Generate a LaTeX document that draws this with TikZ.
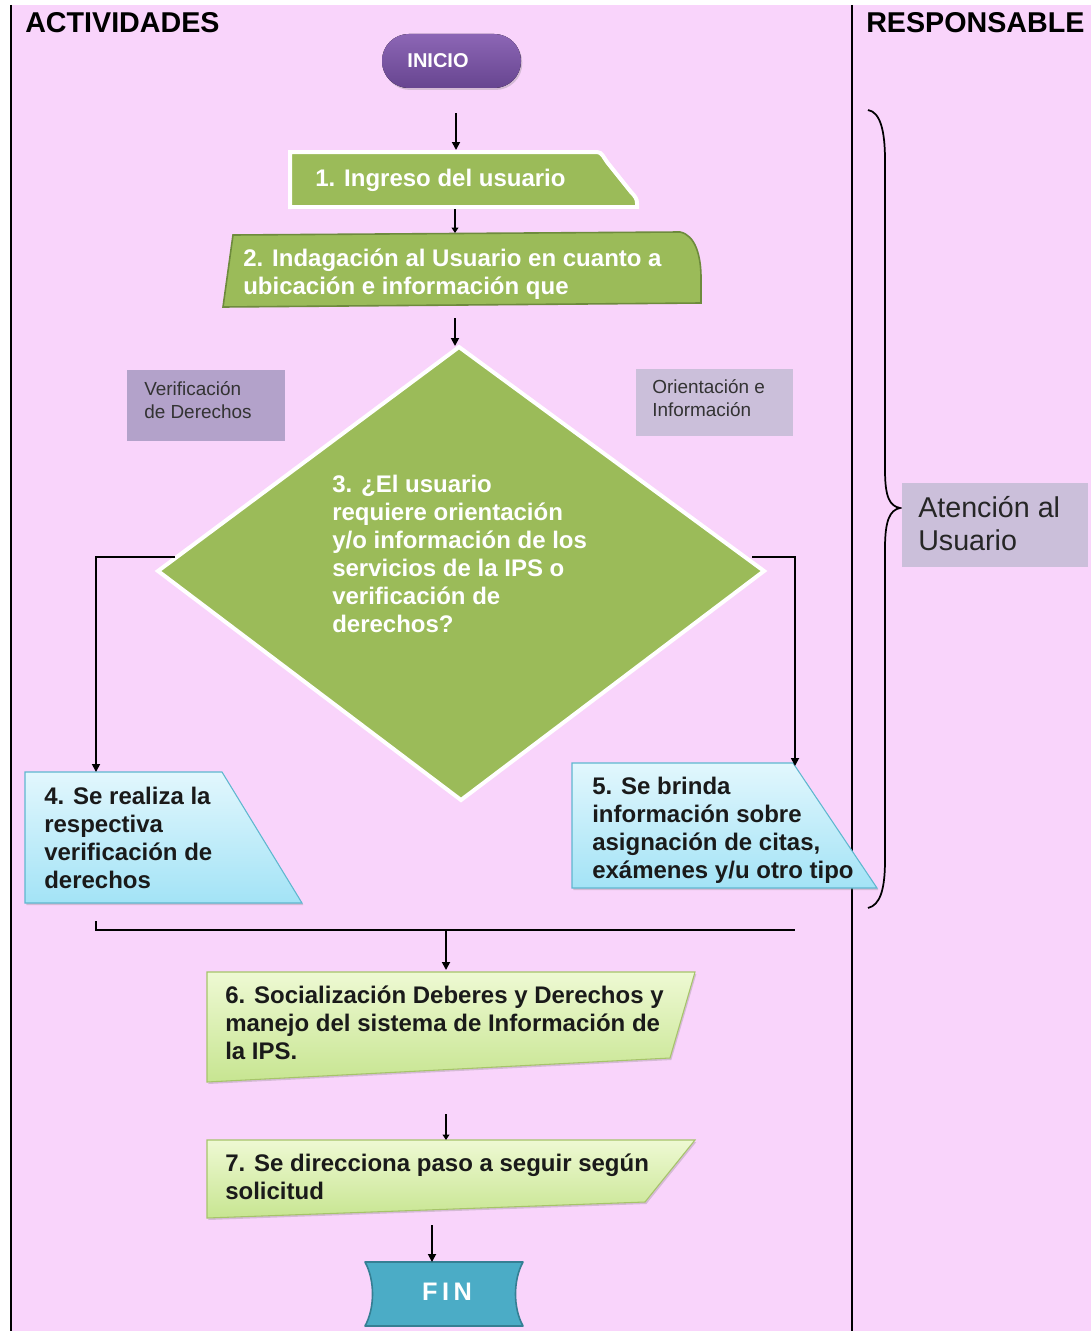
\documentclass[tikz,border=0pt]{standalone}
\usepackage{fontspec}
\setmainfont{Liberation Sans}
\usetikzlibrary{arrows.meta,shadows}
\definecolor{bgpink}{HTML}{F9D4FB}
\definecolor{leaf}{HTML}{9BBB59}
\definecolor{leafdark}{HTML}{6E8B3D}
\definecolor{skytop}{HTML}{E2F7FD}
\definecolor{skybot}{HTML}{A3E3F6}
\definecolor{skyline}{HTML}{5FB7CF}
\definecolor{limetop}{HTML}{EEF9D3}
\definecolor{limebot}{HTML}{C7E591}
\definecolor{limeline}{HTML}{A6C46A}
\definecolor{finfill}{HTML}{4BACC6}
\definecolor{finline}{HTML}{357F94}
\definecolor{purtop}{HTML}{8C66B5}
\definecolor{purbot}{HTML}{674590}
\definecolor{labdark}{HTML}{B3A2CA}
\definecolor{lablight}{HTML}{CBBFDA}
\definecolor{txtdark}{HTML}{1A1A1A}
\tikzset{
  conn/.style={line width=1.3pt, black},
  arr/.style={conn, -{Triangle[length=6pt,width=6pt]}},
  boxtxt/.style={anchor=north west, inner sep=0pt, align=left, font=\fontsize{18}{21}\selectfont\bfseries},
  labtxt/.style={anchor=north west, inner sep=0pt, align=left, text=black!80, font=\fontsize{14.2}{17.25}\selectfont},
  headtxt/.style={anchor=base west, inner sep=0pt, font=\fontsize{21.5}{25}\selectfont\bfseries},
  softshadow/.style={drop shadow={opacity=0.3, shadow xshift=1pt, shadow yshift=-1.5pt}},
  bluebox/.style={draw=skyline, line width=0.8pt, top color=skytop, bottom color=skybot, softshadow},
  limebox/.style={draw=limeline, line width=0.8pt, top color=limetop, bottom color=limebot, softshadow},
}
\begin{document}
\begin{tikzpicture}[x=0.75pt,y=-0.75pt]
\useasboundingbox (0,0) rectangle (1091,1331);
\fill[white] (0,0) rectangle (1091,1331);
\fill[bgpink] (11,5) rectangle (1091,1331);
\draw[line width=1.6pt] (11,5) -- (11,1331);
\draw[line width=1.6pt] (852,5) -- (852,1331);

% headers
\node[headtxt] (hact) at (25,33) {ACTIVIDADES};
\node[headtxt] (hresp) at (866,33) {RESPONSABLE};

% INICIO
\fill[top color=purtop, bottom color=purbot, rounded corners=20pt, softshadow] (382,34) rectangle (521,88);
\node[text=white, inner sep=0pt, font=\fontsize{15}{18}\selectfont\bfseries] (inicio) at (438,61) {INICIO};

% box 1
\draw[white, line width=3pt, fill=leaf, softshadow] (290,152) -- (597,152) .. controls (602,152) and (604,158) .. (607,162) -- (631,192) .. controls (635,196) and (637,199) .. (637,203) -- (637,207) -- (290,207) -- cycle;
\node[boxtxt, anchor=base west, text=white] (t1) at (315,186) {1. Ingreso del usuario};

% box 2
\draw[leafdark, line width=1.2pt, fill=leaf] (233,235) -- (680,232) .. controls (695,235) and (701,255) .. (701,278) -- (701,303) -- (223,307) -- cycle;
\node[boxtxt, text=white] (t2) at (243,246.4) {\strut 2. Indagación al Usuario en cuanto a\\ubicación e información que};

% diamond
\draw[white, line width=3pt, fill=leaf] (459,347) -- (764,571) -- (461,800) -- (158,571) -- cycle;
\node[boxtxt, text=white] (t3) at (332,472.4) {\strut 3. ¿El usuario\\requiere orientación\\y/o información de los\\servicios de la IPS o\\verificación de\\derechos?};

% side labels
\fill[labdark] (127,370) rectangle (285,441);
\node[labtxt] (lver) at (144,378.9) {\strut Verificación\\de Derechos};
\fill[lablight] (636,369) rectangle (793,436);
\node[labtxt] (lori) at (652,376.9) {\strut Orientación e\\Información};

% box 4
\path[bluebox] (25,772) -- (222,772) -- (302,903) -- (25,903) -- cycle;
\node[boxtxt, text=txtdark] (t4) at (44,784.4) {\strut 4. Se realiza la\\respectiva\\verificación de\\derechos};

% box 5
\path[bluebox] (572,763) -- (793,763) -- (877,888) -- (572,888) -- cycle;
\node[boxtxt, text=txtdark] (t5) at (592,774.4) {\strut 5. Se brinda\\información sobre\\asignación de citas,\\exámenes y/u otro tipo};

% box 6
\path[limebox] (207,972) -- (695,972) -- (670,1058) -- (207,1082) -- cycle;
\node[boxtxt, text=txtdark] (t6) at (225,983.4) {\strut 6. Socialización Deberes y Derechos y\\manejo del sistema de Información de\\la IPS.};

% box 7
\path[limebox] (207,1140) -- (695,1140) -- (645,1202) -- (207,1218) -- cycle;
\node[boxtxt, text=txtdark] (t7) at (225,1151.4) {\strut 7. Se direcciona paso a seguir según\\solicitud};

% FIN
\draw[finline, line width=1.2pt, fill=finfill, line join=round] (444,1262) -- (523,1262) .. controls (513,1280) and (513,1308) .. (523,1326) -- (365,1326) .. controls (375,1308) and (375,1280) .. (365,1262) -- cycle;
\node[text=white, inner sep=0pt, font=\fontsize{19}{22}\selectfont\bfseries\addfontfeature{LetterSpace=18}] (fin) at (447,1292) {FIN};

% responsable
\draw[line width=1.3pt] (868,110) .. controls (880,112) and (885,130) .. (885,160) -- (885,470) .. controls (885,498) and (890,506) .. (900,508) .. controls (890,510) and (885,520) .. (885,548) -- (885,860) .. controls (885,890) and (880,905) .. (868,908);
\fill[lablight] (902,483) rectangle (1088,567);
\node[anchor=north west, inner sep=0pt, align=left, text=black!85, font=\fontsize{21.5}{24.75}\selectfont] (aten) at (918,493.9) {\strut Atención al\\Usuario};

% connector coordinates
\coordinate (inicioS) at (456,113);
\coordinate (b1N) at (456,150);
\coordinate (b1S) at (455,209);
\coordinate (b2N) at (455,233);
\coordinate (b2S) at (455,318);
\coordinate (dN) at (455,346);
\coordinate (dL) at (175,557);
\coordinate (dR) at (752,557);
\coordinate (b4N) at (96,772);
\coordinate (b5N) at (795,766);
\coordinate (tick) at (96,921);
\coordinate (mL) at (96,930);
\coordinate (mR) at (795,930);
\coordinate (mC) at (446,930);
\coordinate (b6N) at (446,970);
\coordinate (b6S) at (446,1114);
\coordinate (b7N) at (446,1140);
\coordinate (b7S) at (432,1225);
\coordinate (finN) at (432,1262);

\draw[arr] (inicioS) -- (b1N);
\draw[conn, -{Triangle[length=4pt,width=5pt]}] (b1S) -- (b2N);
\draw[arr] (b2S) -- (dN);
\draw[arr] (dL) -| (b4N);
\draw[arr] (dR) -| (b5N);
\draw[conn] (tick) -- (mL) -- (mR);
\draw[arr] (mC) -- (b6N);
\draw[conn, -{Triangle[length=4pt,width=5pt]}] (b6S) -- (b7N);
\draw[arr] (b7S) -- (finN);
\end{tikzpicture}
\end{document}
